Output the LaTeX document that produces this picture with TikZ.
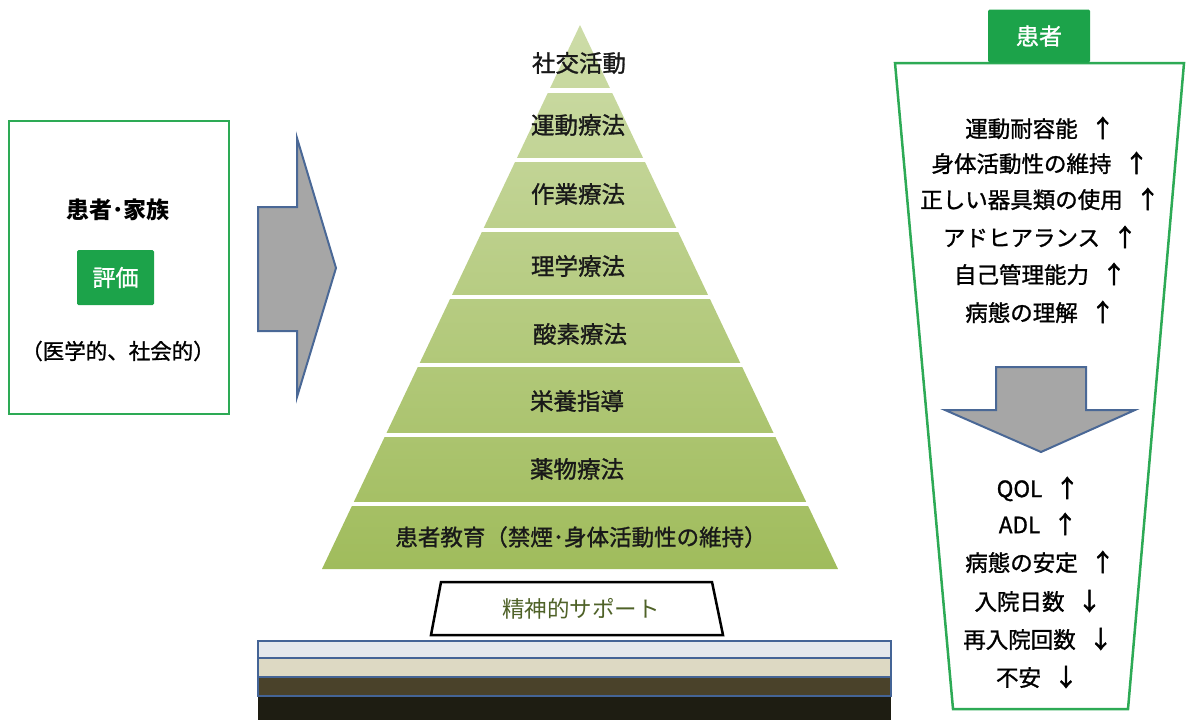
\documentclass[tikz,border=0pt]{standalone}
\usepackage{fontspec}
\setmainfont{Noto Sans CJK JP}
\newfontfamily\medfont[FakeBold=1.2]{Noto Sans CJK JP}
\newfontfamily\arrfont[FakeBold=2.5]{Noto Sans CJK JP}
\definecolor{grn}{RGB}{45,170,85}
\definecolor{tabgrn}{RGB}{28,163,74}
\definecolor{arrgray}{RGB}{166,166,166}
\definecolor{arrblue}{RGB}{74,104,150}
\definecolor{pyrtop}{RGB}{205,220,168}
\definecolor{pyrbot}{RGB}{160,188,92}
\definecolor{olivetxt}{RGB}{79,98,40}
\definecolor{bandA}{RGB}{228,232,236}
\definecolor{bandB}{RGB}{221,217,195}
\definecolor{bandC}{RGB}{74,66,42}
\definecolor{bandD}{RGB}{30,29,18}
\definecolor{bandline}{RGB}{68,100,150}
\tikzset{
  ptxt/.style={font=\medfont\fontsize{23.5}{27}\selectfont, text=black!90, inner sep=0pt},
  rtxt/.style={font=\medfont\fontsize{22.5}{27}\selectfont, text=black, inner sep=0pt},
  bigarrow/.style={fill=arrgray, draw=arrblue, line width=2pt, line join=miter},
  band/.style={draw=bandline, line width=1.8pt},
}
\newcommand{\up}{\hspace{13pt}{\arrfont\fontsize{24}{27}\selectfont ↑}}
\newcommand{\dn}{\hspace{13pt}{\arrfont\fontsize{24}{27}\selectfont ↓}}
\begin{document}
\begin{tikzpicture}[x=1pt,y=-1pt]
\useasboundingbox (0,0) rectangle (1190,720);

% ---------- left box ----------
\node[draw=grn, line width=2.5pt, minimum width=220pt, minimum height=293pt, inner sep=0pt] (lbox) at (119,267.5) {};
\node[font=\bfseries\fontsize{23}{27}\selectfont, inner sep=0pt] (fam) at (118,210) {患者･家族};
\node[fill=tabgrn, text=white, font=\medfont\fontsize{23}{27}\selectfont, minimum width=77pt, minimum height=55pt, inner sep=0pt, rounded corners=1.5pt] (eval) at (115.5,277.5) {評価};
\node[font=\medfont\fontsize{21.5}{26}\selectfont, inner sep=0pt] (med) at (118,351) {（医学的、社会的）};

% ---------- right-pointing arrow ----------
\draw[bigarrow] (258,207) -- (297,207) -- (297,138) -- (336,268) -- (297,397) -- (297,331) -- (258,331) -- cycle;

% ---------- pyramid ----------
\shade[top color=pyrtop, bottom color=pyrbot] (580,25) -- (838,569) -- (322,569) -- cycle;
\begin{scope}
  \clip (580,20) -- (845,572) -- (315,572) -- cycle;
  \foreach \a/\b in {88/92.5,158/162,228/232,295/299,363/367,433/437,502/506}
    \fill[white] (300,\a) rectangle (860,\b);
\end{scope}
\node[ptxt] (t1) at (579,63) {社交活動};
\node[ptxt] (t2) at (578,125) {運動療法};
\node[ptxt] (t3) at (578,194) {作業療法};
\node[ptxt] (t4) at (578,266) {理学療法};
\node[ptxt] (t5) at (580,334) {酸素療法};
\node[ptxt] (t6) at (577,401) {栄養指導};
\node[ptxt] (t7) at (577,469) {薬物療法};
\node[ptxt, font=\medfont\fontsize{22.5}{27}\selectfont] (t8) at (581,537) {患者教育（禁煙･身体活動性の維持）};

% ---------- mental support ----------
\draw[line width=2.5pt, fill=white, line join=miter] (441,582) -- (712,582) -- (723,635) -- (431,635) -- cycle;
\node[font=\fontsize{22.5}{26}\selectfont, text=olivetxt, inner sep=0pt] (sup) at (581,609) {精神的サポート};

% ---------- base layers ----------
\fill[bandD] (258,696) rectangle (891,720);
\draw[band, fill=bandC] (258,677) rectangle (891,696);
\draw[band, fill=bandB] (258,658) rectangle (891,677);
\draw[band, fill=bandA] (258,641) rectangle (891,658);

% ---------- right panel ----------
\draw[grn, line width=2.5pt, line join=miter] (895,63) -- (1184,63) -- (1128,709) -- (953,709) -- cycle;
\node[fill=tabgrn, text=white, font=\medfont\fontsize{23}{27}\selectfont, minimum width=102pt, minimum height=53pt, inner sep=0pt, rounded corners=1.5pt] (pat) at (1039,36) {患者};

\node[rtxt] (r1) at (1040,128) {運動耐容能\up};
\node[rtxt] (r2) at (1040,163) {身体活動性の維持\up};
\node[rtxt] (r3) at (1040,199) {正しい器具類の使用\up};
\node[rtxt] (r4) at (1040,237) {アドヒアランス\up};
\node[rtxt] (r5) at (1040,274) {自己管理能力\up};
\node[rtxt] (r6) at (1040,312) {病態の理解\up};

\draw[bigarrow] (996,367) -- (1086,367) -- (1086,410) -- (1135,410) -- (1041,452) -- (945,410) -- (996,410) -- cycle;

\node[rtxt] (q1) at (1038,489) {QOL\up};
\node[rtxt] (q2) at (1038,524) {ADL\up};
\node[rtxt] (q3) at (1040,562) {病態の安定\up};
\node[rtxt] (q4) at (1038,601) {入院日数\dn};
\node[rtxt] (q5) at (1038,639) {再入院回数\dn};
\node[rtxt] (q6) at (1037,677) {不安\dn};
\end{tikzpicture}
\end{document}
